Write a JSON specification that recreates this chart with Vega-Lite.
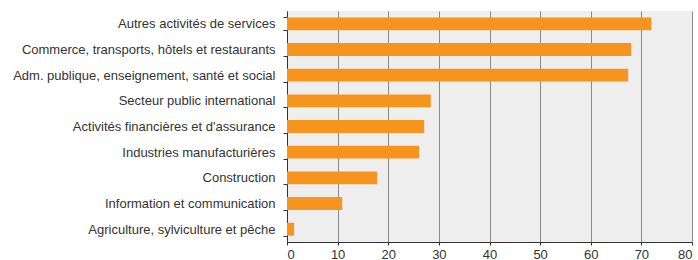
{
  "$schema": "https://vega.github.io/schema/vega-lite/v6.json",
  "autosize": {"type": "none"},
  "padding": {"left": 287, "top": 11, "right": 6, "bottom": 18},
  "width": 405,
  "height": 231,
  "background": "white",
  "config": {
    "view": {"fill": "#eeeeee", "stroke": null},
    "font": "Liberation Sans",
    "axis": {"labelFont": "Liberation Sans", "labelFontSize": 13, "labelColor": "#333333", "domainColor": "#333333", "tickColor": "#333333"}
  },
  "data": {
    "values": [
      {"secteur": "Autres activités de services", "valeur": 72.0},
      {"secteur": "Commerce, transports, hôtels et restaurants", "valeur": 68.0},
      {"secteur": "Adm. publique, enseignement, santé et social", "valeur": 67.4},
      {"secteur": "Secteur public international", "valeur": 28.4},
      {"secteur": "Activités financières et d'assurance", "valeur": 27.1},
      {"secteur": "Industries manufacturières", "valeur": 26.1},
      {"secteur": "Construction", "valeur": 17.8},
      {"secteur": "Information et communication", "valeur": 10.9},
      {"secteur": "Agriculture, sylviculture et pêche", "valeur": 1.4}
    ]
  },
  "mark": {"type": "bar", "color": "#F7941D"},
  "encoding": {
    "y": {
      "field": "secteur", "type": "nominal", "sort": null,
      "scale": {"paddingInner": 0.5, "paddingOuter": 0.25},
      "axis": {"title": null, "tickBand": "extent", "tickSize": 4, "labelPadding": 8, "grid": false, "labelLimit": 300}
    },
    "x": {
      "field": "valeur", "type": "quantitative",
      "scale": {"domain": [0, 80], "nice": false},
      "axis": {"title": null, "values": [0, 10, 20, 30, 40, 50, 60, 70, 80], "grid": true, "gridColor": "#888888", "gridOpacity": 1, "tickSize": 3, "labelPadding": 3, "labelOverlap": false}
    }
  }
}
